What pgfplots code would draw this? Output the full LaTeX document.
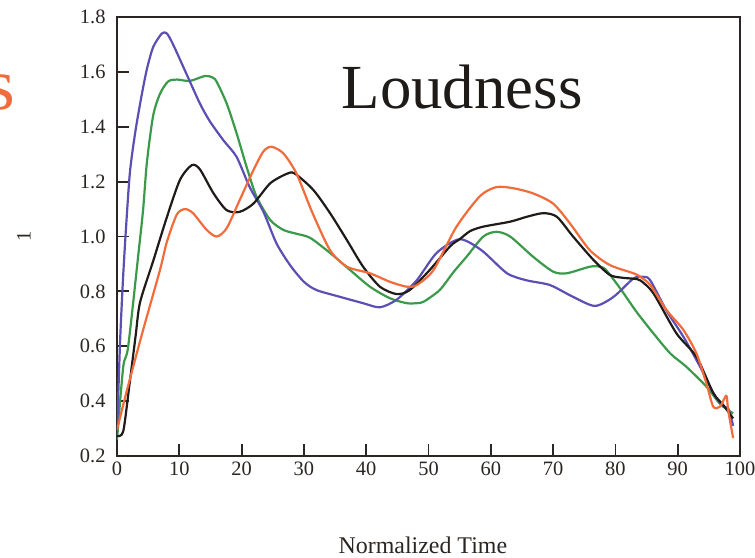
\documentclass[border=0pt]{standalone}
\usepackage{fontspec}
\setmainfont{Liberation Serif}
\usepackage{pgfplots}
\pgfplotsset{compat=1.18}
\usepackage{pgfplotstable}

\definecolor{cblue}{HTML}{5B4FB3}
\definecolor{cgreen}{HTML}{3A9A4A}
\definecolor{corange}{HTML}{F26B3B}
\definecolor{cblack}{HTML}{1E1B18}
\definecolor{axcol}{HTML}{2B2622}

% loudness contours over normalized time, one table per series
\pgfplotstableread{
x y
0 0.28
0.5 0.62
1 0.86
1.5 1.05
2.1 1.24
3 1.39
4 1.52
4.8 1.61
5.8 1.69
7.2 1.74
8 1.74
9 1.70
11.2 1.59
13.3 1.485
14.9 1.42
17.1 1.35
19.2 1.29
21.3 1.18
23.5 1.09
25.6 0.975
27.8 0.895
30 0.835
32 0.805
35.8 0.78
39.5 0.757
42.2 0.742
44.9 0.77
48.1 0.84
51.3 0.94
55 0.99
58.5 0.95
62.6 0.866
65.8 0.84
69.5 0.823
73.2 0.78
76.7 0.747
79.7 0.78
82.9 0.847
84.5 0.853
85.6 0.84
88.2 0.73
90.9 0.635
93.6 0.525
95.7 0.43
97.3 0.38
98.1 0.374
98.9 0.31
}\tblblue

\pgfplotstableread{
x y
0 0.26
1 0.525
1.8 0.6
3.5 0.95
4.2 1.1
4.8 1.27
5.8 1.44
6.9 1.52
8.2 1.565
9.6 1.572
11.7 1.567
14.1 1.585
15.3 1.58
16 1.564
17.6 1.485
19.2 1.376
20.8 1.254
22.4 1.145
24.6 1.06
26.7 1.024
28.8 1.01
31 0.995
34.2 0.94
37.4 0.878
40.6 0.817
43.8 0.775
46.5 0.757
48.1 0.757
49.2 0.762
51.8 0.805
54 0.87
56.1 0.926
58.8 1.0
60.9 1.017
63.1 1.0
66.8 0.926
70 0.872
72.2 0.866
75.9 0.89
77.5 0.89
78.5 0.878
80.7 0.813
83.4 0.725
86.1 0.647
88.8 0.574
91.4 0.525
94.6 0.453
96.8 0.39
98.9 0.355
}\tblgreen

\pgfplotstableread{
x y
0 0.273
1 0.29
2 0.46
3 0.64
3.7 0.76
5.8 0.91
8 1.07
10.1 1.206
12 1.26
13.3 1.245
15.5 1.157
17.6 1.096
19.7 1.09
21.9 1.12
24.6 1.194
27.2 1.228
28.5 1.23
31.5 1.17
34.2 1.085
36.9 0.987
39.5 0.89
42.2 0.817
44.9 0.79
47 0.805
50.2 0.878
53.5 0.965
55 0.99
56.7 1.02
58.8 1.036
63.1 1.054
65.8 1.072
68.4 1.085
70.6 1.072
73.2 1.0
76.5 0.914
79.1 0.86
81 0.85
82.9 0.846
84 0.84
86.1 0.793
89.8 0.647
93 0.562
95.7 0.43
97.3 0.386
98.9 0.337
}\tblblack

\pgfplotstableread{
x y
0 0.295
1.6 0.44
4.2 0.66
6.9 0.878
8 0.98
9.6 1.08
10.9 1.1
12.2 1.085
14.4 1.024
16 1.0
17.6 1.03
19.7 1.133
21.9 1.242
23.5 1.31
24.8 1.327
26.7 1.303
28.8 1.23
31.3 1.09
34.2 0.95
36.9 0.89
40.6 0.866
43.8 0.835
46.5 0.817
48.1 0.823
50.8 0.878
54.5 1.036
58.3 1.148
60.9 1.18
63.6 1.176
66.8 1.157
70 1.12
72.7 1.048
75.9 0.95
79.1 0.896
82.9 0.866
84 0.853
85.6 0.823
88.2 0.732
90.9 0.66
93 0.574
94.6 0.465
95.7 0.38
96.8 0.38
97.8 0.42
98.1 0.367
98.9 0.265
}\tblorange

\begin{document}
\begin{tikzpicture}
\begin{axis}[
  scale only axis,
  width=623bp, height=439bp,
  xmin=0, xmax=100, ymin=0.2, ymax=1.8,
  xtick={0,10,20,30,40,50,60,70,80,90,100},
  ytick={0.2,0.4,0.6,0.8,1.0,1.2,1.4,1.6,1.8},
  /pgf/number format/assume math mode=true,
  xtick pos=bottom, ytick pos=left,
  tick align=inside,
  major tick length=12bp,
  tick style={line width=1.8bp, color=axcol},
  axis line style={line width=2bp, color=axcol},
  ticklabel style={font=\fontsize{20.5}{24}\selectfont, text=axcol},
  yticklabel style={/pgf/number format/fixed, /pgf/number format/fixed zerofill,
    /pgf/number format/precision=1, xshift=-8bp},
  xticklabel style={yshift=-2bp},
  xlabel={Normalized Time},
  xlabel style={at={(axis description cs:0.491,0)}, anchor=base,
    yshift=-97bp, font=\fontsize{24}{28}\selectfont, text=axcol},
  ylabel={1},
  ylabel style={at={(axis description cs:0,0.5)}, anchor=center,
    yshift=93bp, font=\fontsize{20.5}{24}\selectfont, text=axcol},
  every axis plot/.append style={line width=2.2bp, smooth, tension=0.45,
    line join=round, no marks},
]
\addplot[cgreen] table {\tblgreen};
\addplot[cblue] table {\tblblue};
\addplot[cblack] table {\tblblack};
\addplot[corange] table {\tblorange};
\node[anchor=base, font=\fontsize{63}{70}\selectfont, text=cblack, inner sep=0pt]
  at (axis cs:55.4,1.468) {Loudness};
\end{axis}
\node[anchor=base east, inner sep=0pt, font=\fontsize{74}{80}\selectfont, text=corange]
  at (-102bp,346bp) {s};
\pgfresetboundingbox
\useasboundingbox (-117bp,-102bp) rectangle (638bp,456bp);
\end{tikzpicture}
\end{document}
